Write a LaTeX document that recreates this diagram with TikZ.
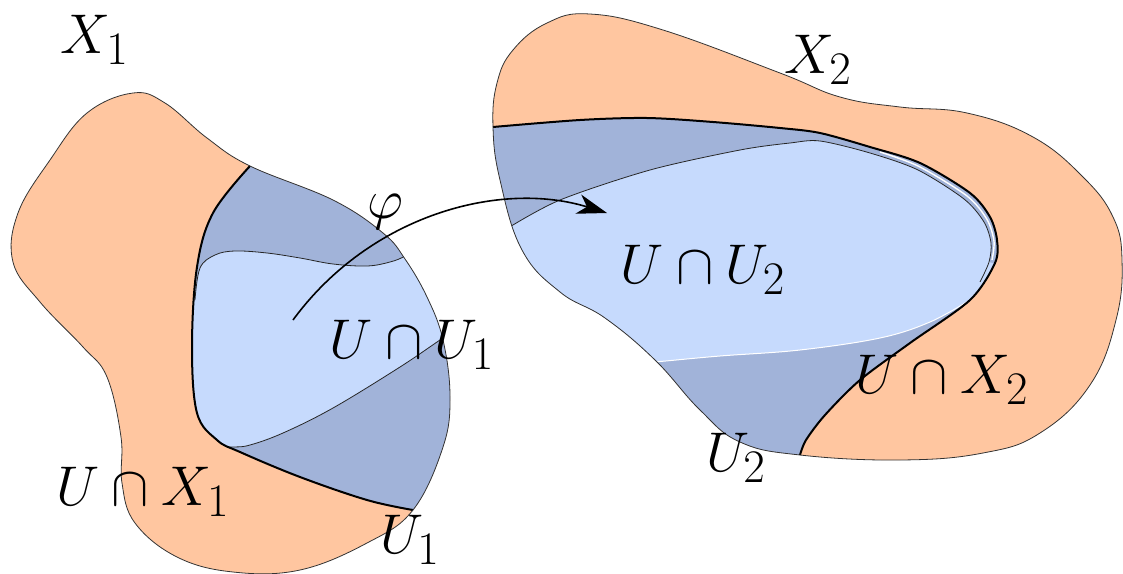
\documentclass[tikz,border=0pt]{standalone}
\usetikzlibrary{arrows.meta}
\definecolor{peach}{HTML}{FFC6A0}
\definecolor{darkb}{HTML}{A1B3D9}
\definecolor{lightb}{HTML}{C6DAFD}
\begin{document}
\begin{tikzpicture}[x=1pt,y=-1pt,
 outline/.style={draw=black!80, line width=0.8pt},
 thickline/.style={draw=black, line width=2pt},
 thinline/.style={draw=black!85, line width=0.8pt},
 lab/.style={font=\Huge, scale=2.25, inner sep=0pt}]
\useasboundingbox (0,0) rectangle (1123,573);
% ---------------- left shape ----------------
\fill[peach] plot[smooth cycle, tension=0.65] coordinates {(133,93) (165,103) (207,138) (250,166) (333,200) (383,233) (405,259) (427,297) (443,340) (450,397) (443,447) (413,510) (367,543) (300,570) (233,572) (177,557) (135,523) (122,483) (121,437) (107,377) (83,347) (40,302) (13,262) (18,213) (50,160) (87,113)};
\begin{scope}
\clip plot[smooth cycle, tension=0.65] coordinates {(133,93) (165,103) (207,138) (250,166) (333,200) (383,233) (405,259) (427,297) (443,340) (450,397) (443,447) (413,510) (367,543) (300,570) (233,572) (177,557) (135,523) (122,483) (121,437) (107,377) (83,347) (40,302) (13,262) (18,213) (50,160) (87,113)};
\clip (280,100) -- plot[smooth, tension=0.6] coordinates {(250,166) (213,213) (197,267) (192,347) (197,413) (217,440) (240,452) (300,477) (367,500) (413,510)} -- (470,570) -- (570,570) -- (570,100) -- cycle;
\fill[darkb] (0,0) rectangle (600,600);
\fill[lightb] (150,300) -- plot[smooth, tension=0.6] coordinates {(195,300) (200,268) (215,255) (235,251) (267,253) (300,258) (333,264) (367,266) (390,262) (405,256) (420,245)} -- (480,240) -- (480,320) -- plot[smooth, tension=0.6] coordinates {(460,328) (443,338) (400,367) (333,408) (283,433) (250,445) (233,447) (205,447)} -- (150,447) -- cycle;
\draw[thinline] plot[smooth, tension=0.6] coordinates {(195,300) (200,268) (215,255) (235,251) (267,253) (300,258) (333,264) (367,266) (390,262) (405,256) (420,245)};
\draw[thinline] plot[smooth, tension=0.6] coordinates {(460,328) (443,338) (400,367) (333,408) (283,433) (250,445) (233,447) (205,447)};
\end{scope}
\draw[thickline] plot[smooth, tension=0.6] coordinates {(250,166) (213,213) (197,267) (192,347) (197,413) (217,440) (240,452) (300,477) (367,500) (413,510)};
\draw[outline] plot[smooth cycle, tension=0.65] coordinates {(133,93) (165,103) (207,138) (250,166) (333,200) (383,233) (405,259) (427,297) (443,340) (450,397) (443,447) (413,510) (367,543) (300,570) (233,572) (177,557) (135,523) (122,483) (121,437) (107,377) (83,347) (40,302) (13,262) (18,213) (50,160) (87,113)};
% ---------------- right shape ----------------
\fill[peach] plot[smooth cycle, tension=0.7] coordinates {(493,127) (497,83) (513,50) (547,23) (590,14) (663,30) (780,73) (840,97) (900,107) (967,113) (1033,137) (1083,177) (1113,217) (1122,260) (1116,320) (1090,385) (1040,433) (983,453) (900,460) (800,455) (740,442) (700,410) (655,360) (605,318) (560,292) (522,250) (500,180)};
\begin{scope}
\clip plot[smooth cycle, tension=0.7] coordinates {(493,127) (497,83) (513,50) (547,23) (590,14) (663,30) (780,73) (840,97) (900,107) (967,113) (1033,137) (1083,177) (1113,217) (1122,260) (1116,320) (1090,385) (1040,433) (983,453) (900,460) (800,455) (740,442) (700,410) (655,360) (605,318) (560,292) (522,250) (500,180)};
\clip (460,100) -- plot[smooth, tension=0.5] coordinates {(493,127) (580,120) (647,118) (713,122) (780,128) (820,133) (870,147) (920,163) (970,193) (990,217) (997,240) (995,263) (970,300) (910,343) (860,380) (825,415) (806,440) (800,455)} -- (780,530) -- (460,530) -- cycle;
\fill[darkb] (450,0) rectangle (1123,573);
\fill[lightb] (480,235) -- plot[smooth, tension=0.5] coordinates {(508,228) (560,200) (650,170) (740,150) (790,143) (820,141) (870,153) (918,170) (964,199) (984,222) (991,243) (989,262)} -- (1010,268) -- (990,300) -- plot[smooth, tension=0.6] coordinates {(970,300) (930,322) (880,338) (800,350) (720,356) (655,362) (600,367)} -- (480,370) -- cycle;
\draw[thinline] plot[smooth, tension=0.5] coordinates {(508,228) (560,200) (650,170) (740,150) (790,143) (820,141) (870,153) (918,170) (964,199) (984,222) (991,243) (989,262) (980,282)};
\draw[white, line width=1.4pt] plot[smooth, tension=0.5] coordinates {(880,152) (919,166.5) (967,196) (987,219.5) (994,241.5) (992,260)};
\draw[white, line width=1pt] plot[smooth, tension=0.6] coordinates {(970,300) (930,322) (880,338) (800,350) (720,356) (655,362) (600,367)};
\end{scope}
\draw[thickline] plot[smooth, tension=0.5] coordinates {(493,127) (580,120) (647,118) (713,122) (780,128) (820,133) (870,147) (920,163) (970,193) (990,217) (997,240) (995,263) (970,300) (910,343) (860,380) (825,415) (806,440) (800,455)};
\draw[outline] plot[smooth cycle, tension=0.7] coordinates {(493,127) (497,83) (513,50) (547,23) (590,14) (663,30) (780,73) (840,97) (900,107) (967,113) (1033,137) (1083,177) (1113,217) (1122,260) (1116,320) (1090,385) (1040,433) (983,453) (900,460) (800,455) (740,442) (700,410) (655,360) (605,318) (560,292) (522,250) (500,180)};
% ---------------- arrow ----------------
\coordinate (phistart) at (293,320);
\coordinate (phiend) at (607,213);
\draw[line width=1.6pt, -{Stealth[length=30pt,width=20pt,inset=9pt]}] (phistart) .. controls (370,215) and (500,180) .. (phiend);
% ---------------- labels ----------------
\node[lab] (lX1) at (95,40) {$X_1$};
\node[lab] (lX2) at (818,60) {$X_2$};
\node[lab] (lphi) at (385,212) {$\varphi$};
\node[lab] (lUU1) at (412,345) {$U\cap U_1$};
\node[lab] (lUU2) at (703,270) {$U\cap U_2$};
\node[lab] (lUX2) at (942,380) {$U\cap X_2$};
\node[lab] (lUX1) at (143,492) {$U\cap X_1$};
\node[lab] (lU1) at (410,540) {$U_1$};
\node[lab] (lU2) at (736,458) {$U_2$};
\end{tikzpicture}
\end{document}
